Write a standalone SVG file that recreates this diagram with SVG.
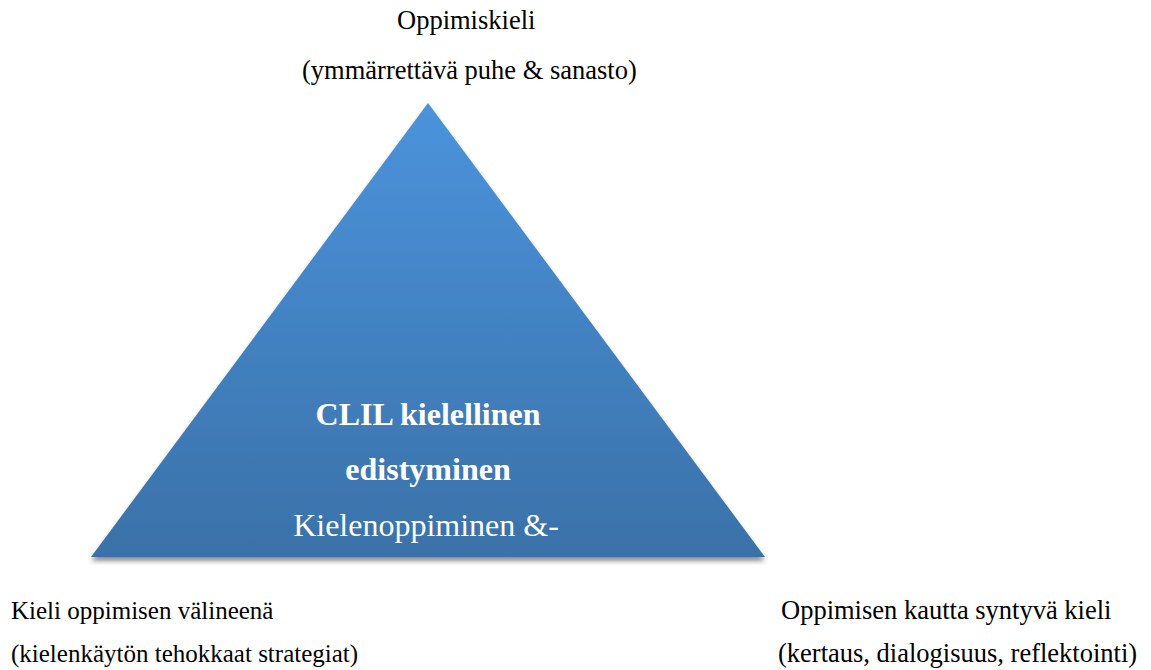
<svg xmlns="http://www.w3.org/2000/svg" width="1151" height="670" viewBox="0 0 1151 670">
<style>
.lbl{font-family:"Liberation Serif","Times New Roman",serif;font-size:26.5px;fill:#000}
.sm{font-size:25px}
.in{font-family:"Liberation Serif","Times New Roman",serif;font-size:32px;fill:#fff;text-anchor:middle}
.b{font-weight:bold}
</style>
<defs>
<linearGradient id="g" x1="0" y1="0" x2="0" y2="1">
<stop offset="0" stop-color="#4b93dc"/>
<stop offset="1" stop-color="#3a71a8"/>
</linearGradient>
<filter id="sh" x="-10%" y="-10%" width="120%" height="130%">
<feGaussianBlur in="SourceAlpha" stdDeviation="2.5"/>
<feOffset dx="0" dy="4" result="o"/>
<feComponentTransfer><feFuncA type="linear" slope="0.45"/></feComponentTransfer>
<feMerge><feMergeNode/><feMergeNode in="SourceGraphic"/></feMerge>
</filter>
</defs>
<rect width="1151" height="670" fill="#fff"/>
<g id="triangle">
<polygon points="428,103 765,557 91,557" fill="url(#g)" filter="url(#sh)"/>
<text class="in b" x="428" y="425">CLIL kielellinen</text>
<text class="in b" x="428" y="480">edistyminen</text>
<text class="in" x="426" y="536">Kielenoppiminen &amp;-</text>
</g>
<g id="top">
<text class="lbl" x="397" y="29">Oppimiskieli</text>
<text class="lbl" x="302" y="79">(ymmärrettävä puhe &amp; sanasto)</text>
</g>
<g id="left">
<text class="lbl sm" x="11" y="619">Kieli oppimisen välineenä</text>
<text class="lbl sm" x="11" y="662">(kielenkäytön tehokkaat strategiat)</text>
</g>
<g id="right">
<text class="lbl" x="781" y="619">Oppimisen kautta syntyvä kieli</text>
<text class="lbl" x="778" y="662">(kertaus, dialogisuus, reflektointi)</text>
</g>
<g id="connectors"/>
</svg>
